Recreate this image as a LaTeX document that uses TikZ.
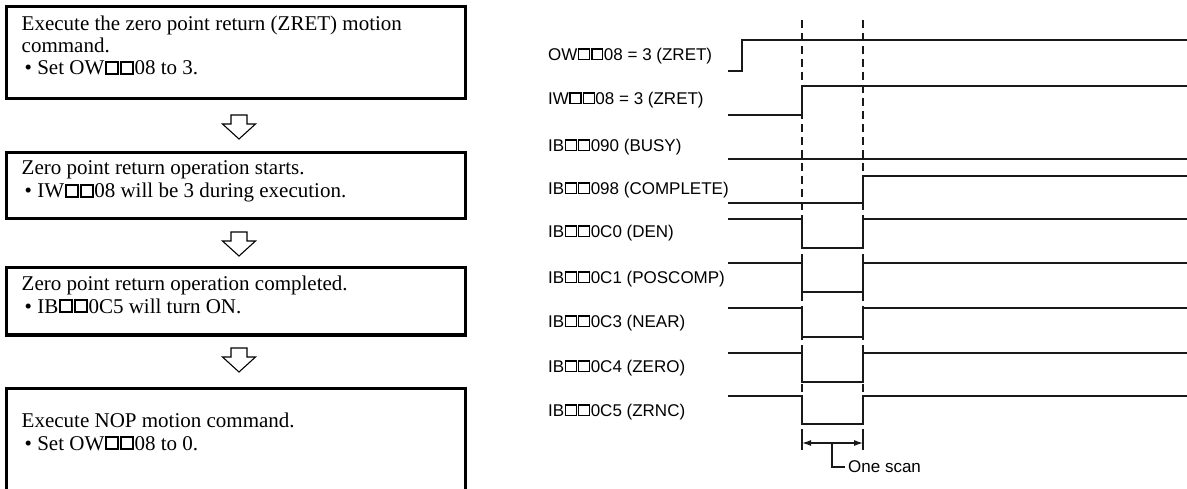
\documentclass[tikz,border=0pt]{standalone}
\usepackage{fontspec}
\setmainfont{Liberation Serif}
\newfontfamily\labfont{Liberation Sans}
\usetikzlibrary{arrows.meta}
% white square glyph drawn with rules: #1 inner size, #2 rule, #3 side kern
\newcommand\mysq[3]{\kern#3{\setlength{\fboxsep}{0pt}\setlength{\fboxrule}{#2}\raisebox{#2}{\fbox{\rule{0pt}{#1}\rule{#1}{0pt}}}}\kern#3}
\newcommand\ssq{\mysq{0.47em}{0.09em}{0.035em}}
\newcommand\lsq{\mysq{0.55em}{0.085em}{0.03em}}
\tikzset{
  box/.style={draw=black, line width=3pt, inner sep=0pt},
  boxtext/.style={anchor=base west, align=left, inner sep=0pt, font=\fontsize{21}{23}\selectfont},
  hollow/.style={draw=black, line width=1.1pt, fill=white, line join=miter},
  sig/.style={draw=black!90, line width=1.8pt, line join=miter},
  lab/.style={anchor=west, inner sep=0pt, font=\labfont\fontsize{17}{18}\selectfont},
  guide/.style={draw=black!90, line width=1.2pt, dash pattern=on 8pt off 5pt},
  ext/.style={draw=black!90, line width=1.2pt},
  dim/.style={draw=black!90, line width=1.2pt, {Latex[length=9pt,width=6pt]}-{Latex[length=9pt,width=6pt]}},
  downarr/.pic={\path[hollow] (-8,-12) -- (8,-12) -- (8,-3) -- (16.5,-3) -- (0,12) -- (-16.5,-3) -- (-8,-3) -- cycle;}
}
\begin{document}
\begin{tikzpicture}[x=1pt,y=-1pt]
\useasboundingbox (0,0) rectangle (1187,489);
\clip (0,0) rectangle (1187,489);
% flow boxes
\node[box, minimum width=459pt, minimum height=92pt] (b1) at (236,52.5) {};
\node[box, minimum width=459pt, minimum height=66pt] (b2) at (236,186) {};
\node[box, minimum width=459pt, minimum height=67pt] (b3) at (236,301.5) {};
\node[box, minimum width=459pt, minimum height=140pt] (b4) at (236,458) {};
\node[boxtext, font=\fontsize{21}{22}\selectfont] (t1) at (21.5,75) {Execute the zero point return (ZRET) motion\\command.\\\hspace{3pt}• Set OW\ssq\ssq08 to 3.};
\node[boxtext] (t2) at (21.5,198) {Zero point return operation starts.\\\hspace{3pt}• IW\ssq\ssq08 will be 3 during execution.};
\node[boxtext, font=\fontsize{21}{22.5}\selectfont] (t3) at (21.5,313) {Zero point return operation completed.\\\hspace{3pt}• IB\ssq\ssq0C5 will turn ON.};
\node[boxtext] (t4) at (21.5,450) {Execute NOP motion command.\\\hspace{3pt}• Set OW\ssq\ssq08 to 0.};
% flow arrows
\coordinate (a1) at (239,127);
\coordinate (a2) at (239,244);
\coordinate (a3) at (239,360);
\pic at (a1) {downarr};
\pic at (a2) {downarr};
\pic at (a3) {downarr};
% signal labels
\node[lab] (l1) at (548,56) {OW\lsq\lsq08 = 3 (ZRET)};
\node[lab] (l2) at (548,100) {IW\lsq\lsq08 = 3 (ZRET)};
\node[lab] (l3) at (548,147) {IB\lsq\lsq090 (BUSY)};
\node[lab] (l4) at (548,190) {IB\lsq\lsq098 (COMPLETE)};
\node[lab] (l5) at (548,233) {IB\lsq\lsq0C0 (DEN)};
\node[lab] (l6) at (548,279) {IB\lsq\lsq0C1 (POSCOMP)};
\node[lab] (l7) at (548,323) {IB\lsq\lsq0C3 (NEAR)};
\node[lab] (l8) at (548,368) {IB\lsq\lsq0C4 (ZERO)};
\node[lab] (l9) at (548,412) {IB\lsq\lsq0C5 (ZRNC)};
% guide lines
\coordinate (g1t) at (802,20);
\coordinate (g1b) at (802,424);
\coordinate (g2t) at (863,20);
\coordinate (g2b) at (863,424);
\draw[guide] (g1t) -- (g1b);
\draw[guide] (g2t) -- (g2b);
% signals
\draw[sig] (728,71) -- (742,71) -- (742,40) -- (1190,40);
\draw[sig] (728,115) -- (802,115) -- (802,86) -- (1190,86);
\draw[sig] (728,159) -- (1190,159);
\draw[sig] (728,203) -- (863,203) -- (863,176) -- (1190,176);
\draw[sig] (728,219) -- (802,219) -- (802,248) -- (863,248) -- (863,219) -- (1190,219);
\draw[sig] (728,263) -- (802,263) -- (802,292) -- (863,292) -- (863,263) -- (1190,263);
\draw[sig] (728,308) -- (802,308) -- (802,337) -- (863,337) -- (863,308) -- (1190,308);
\draw[sig] (728,353) -- (802,353) -- (802,382) -- (863,382) -- (863,353) -- (1190,353);
\draw[sig] (728,396) -- (802,396) -- (802,424) -- (863,424) -- (863,396) -- (1190,396);
% one scan dimension
\coordinate (e1t) at (802,429);
\coordinate (e1b) at (802,450);
\coordinate (e2t) at (863,429);
\coordinate (e2b) at (863,450);
\coordinate (d1) at (802,443);
\coordinate (d2) at (863,443);
\coordinate (dm) at (832,443);
\draw[ext] (e1t) -- (e1b);
\draw[ext] (e2t) -- (e2b);
\draw[dim] (d1) -- (d2);
\node[lab, inner xsep=3pt] (os) at (845,467) {One scan};
\draw[ext] (dm) |- (os.west);
\end{tikzpicture}
\end{document}
